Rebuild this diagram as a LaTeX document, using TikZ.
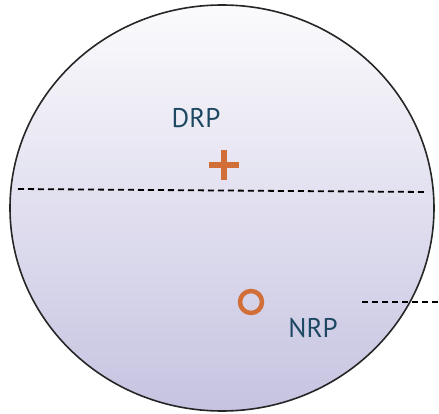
\documentclass[tikz,border=0pt]{standalone}
\usepackage{fontspec}
\setmainfont{PT Sans}
\definecolor{lav}{RGB}{198,195,225}
\definecolor{topc}{RGB}{251,251,253}
\definecolor{orng}{RGB}{210,110,55}
\definecolor{teal}{RGB}{30,72,98}
\tikzset{
  lbl/.style={text=teal, font=\fontsize{27}{29}\selectfont, inner sep=0pt},
  dsh/.style={draw=black, line width=1.8pt, dash pattern=on 6pt off 4pt},
}
\begin{document}
\begin{tikzpicture}[x=1pt,y=-1pt]
\useasboundingbox (0,0) rectangle (439,414);
\shade[top color=topc, bottom color=lav, draw=black!85, line width=1.6pt]
  (222,208) ellipse [x radius=212, y radius=203];
\coordinate (hl) at (18,189);
\coordinate (hr) at (426,192);
\draw[dsh] (hl) -- (hr);
\coordinate (nl) at (362,302);
\coordinate (nr) at (439,302);
\draw[dsh] (nl) -- (nr);
\node[lbl] (drp) at (196,118) {DRP};
\node[lbl] (nrp) at (313,328) {NRP};
\node[inner sep=0pt, minimum size=0pt] (plus) at (224,165) {};
\draw[orng, line width=5.5pt] (plus.center) ++(-15,0) -- ++(30,0);
\draw[orng, line width=5.5pt] (plus.center) ++(0,-15) -- ++(0,30);
\node[circle, draw=orng, line width=4.5pt, minimum size=22pt, inner sep=0pt] (ring) at (251,302) {};
\end{tikzpicture}
\end{document}
